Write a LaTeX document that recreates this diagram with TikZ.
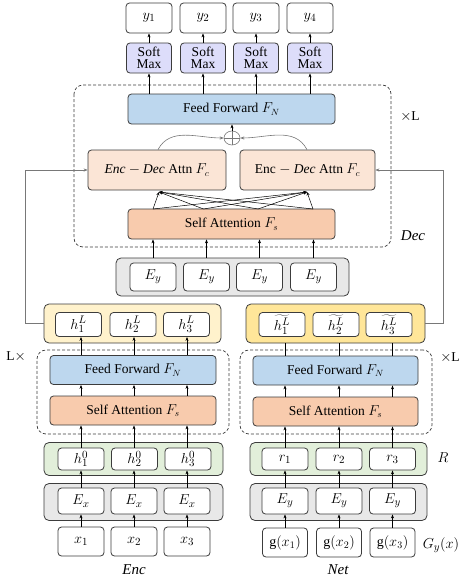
\documentclass[tikz,border=0pt]{standalone}
\usepackage{fontspec}
\setmainfont{Liberation Serif}
\usetikzlibrary{arrows.meta,shapes.geometric}
\definecolor{smx}{RGB}{221,221,250}
\definecolor{ffb}{RGB}{189,215,238}
\definecolor{edc}{RGB}{251,229,214}
\definecolor{sat}{RGB}{248,203,173}
\definecolor{gry}{RGB}{232,232,232}
\definecolor{yl1}{RGB}{255,242,204}
\definecolor{yl2}{RGB}{255,230,153}
\definecolor{grn}{RGB}{226,239,218}
\definecolor{edge}{RGB}{60,60,60}
\definecolor{lgr}{RGB}{120,120,120}
\tikzset{
  bx/.style={draw=edge, line width=0.8pt, rounded corners=3.5pt, inner sep=0pt, align=center, fill=white},
  outer/.style={draw=edge, line width=0.8pt, rounded corners=5pt, inner sep=0pt},
  dbox/.style={draw=edge, line width=0.7pt, dash pattern=on 3pt off 2pt, rounded corners=9pt},
  arr/.style={-{Stealth[length=4pt,width=3pt]}, line width=0.6pt, draw=black},
  plain/.style={line width=0.6pt, draw=black},
  garr/.style={-{Stealth[length=4pt,width=3.2pt]}, line width=0.6pt, draw=lgr},
  thin/.style={-{Stealth[length=3.5pt,width=3pt]}, line width=0.5pt, draw=black},
  mth/.style={font=\fontsize{15}{16}\selectfont},
}
\begin{document}
\begin{tikzpicture}[x=1pt,y=-1pt, font=\fontsize{13.5}{13.5}\selectfont]
\useasboundingbox (0,0) rectangle (466,581);

% ---------------- Decoder ----------------
\draw[dbox] (74,85) rectangle (391,247);
\foreach \i/\x in {1/149,2/203,3/256,4/310}{
  \node[bx, mth, minimum width=46pt, minimum height=30pt] (y\i) at (\x,18) {$y_\i$};
  \node[bx, fill=smx, minimum width=45pt, minimum height=30pt] (sm\i) at (\x,58) {Soft\\[-1.5pt]Max};
}
\node[bx, fill=ffb, minimum width=207pt, minimum height=30pt] (ff) at (231.5,109) {Feed Forward $F_N$};
\node[draw=lgr, line width=0.6pt, ellipse, minimum width=16pt, minimum height=14pt, inner sep=0pt] (circ) at (232,138) {};
\draw[lgr, line width=0.6pt] (circ.north) -- (circ.south) (circ.west) -- (circ.east);
\node[bx, fill=edc, minimum width=138pt, minimum height=40pt] (encL) at (157,170) {$\mathit{Enc}-\mathit{Dec}$ Attn $F_c$};
\node[bx, fill=edc, minimum width=135pt, minimum height=40pt] (encR) at (307.5,170) {Enc $-$ $\mathit{Dec}$ Attn $F_c$};
\node[bx, fill=sat, minimum width=207pt, minimum height=30pt] (sa) at (231.5,224) {Self Attention $F_s$};
\node[outer, fill=gry, minimum width=233pt, minimum height=38pt] (eyo) at (232.5,277) {};
\foreach \i/\x in {1/153,2/206.5,3/259.5,4/313.5}{
  \node[bx, mth, minimum width=46pt, minimum height=28pt] (ey\i) at (\x,277) {$E_y$};
}
\node at (410,117) {$\times$L};
\node[mth] at (413,236) {$\mathit{Dec}$};

% arrows decoder
\foreach \i in {1,2,3,4}{
  \draw[arr] (sm\i.north) -- (y\i.south);
  \draw[arr] (sm\i.south |- ff.north) -- (sm\i.south);
  \draw[arr] (ey\i.north |- eyo.north) -- (ey\i.north |- sa.south);
}
\draw[arr] (circ.north) -- (circ.north |- ff.south);
\draw[garr] ([xshift=1pt]encL.north) to[out=62,in=180] (circ.west);
\draw[garr] ([xshift=-0.5pt]encR.north) to[out=118,in=0] (circ.east);
\coordinate (cl) at (159,192);
\coordinate (cr) at (307,192);
\foreach \k/\x in {1/153,2/203.5,3/258,4/313}{
  \coordinate (b\k) at (\x,209);
  \draw[thin] (b\k) -- (cl);
  \draw[thin] (b\k) -- (cr);
}

% ---------------- Encoder (left) ----------------
\node[outer, fill=yl1, minimum width=177pt, minimum height=39pt] (hLo) at (132.5,323.5) {};
\node[dbox, minimum width=192pt, minimum height=84pt] (dl) at (133,392) {};
\node[bx, fill=ffb, minimum width=166pt, minimum height=29pt] (ffL) at (133,370) {Feed Forward $F_N$};
\node[bx, fill=sat, minimum width=166pt, minimum height=29pt] (saL) at (133,410.5) {Self Attention $F_s$};
\node[outer, fill=grn, minimum width=179pt, minimum height=33pt] (h0o) at (133.5,459) {};
\node[outer, fill=gry, minimum width=179pt, minimum height=37pt] (exo) at (133.5,502) {};
\foreach \i/\x in {1/78.5,2/133,3/186.5}{
  \node[bx, mth, minimum width=46pt, minimum height=24pt] (hL\i) at (\x,324.5) {$h_\i^L$};
}
\foreach \i/\x in {1/81,2/134.5,3/188}{
  \node[bx, mth, minimum width=46pt, minimum height=22pt] (h0\i) at (\x,459) {$h_\i^0$};
}
\foreach \i/\x in {1/81,2/134,3/187}{
  \node[bx, mth, minimum width=46pt, minimum height=26pt] (ex\i) at (\x,501) {$E_x$};
  \node[bx, mth, minimum width=46pt, minimum height=29pt] (x\i) at (\x,541.5) {$x_\i$};
  \draw[arr] (x\i.north) -- (ex\i.south);
  \draw[arr] (ex\i.north) -- (ex\i.north |- h0\i.south);
  \draw[arr] (ex\i.north |- h0\i.north) -- (ex\i.north |- saL.south);
  \draw[arr] (ex\i.north |- saL.north) -- (ex\i.north |- ffL.south);
  \draw[arr] (ex\i.north |- ffL.north) -- (ex\i.north |- hL1.south);
}
\node at (16,357) {L$\times$};
\node[mth] at (134,570) {$\mathit{Enc}$};

% ---------------- Net (right) ----------------
\node[outer, fill=yl2, minimum width=179pt, minimum height=39pt] (hto) at (335.5,323.5) {};
\node[dbox, minimum width=192pt, minimum height=84pt] (dr) at (336,392) {};
\node[bx, fill=ffb, minimum width=165pt, minimum height=29pt] (ffR) at (335.5,370.5) {Feed Forward $F_N$};
\node[bx, fill=sat, minimum width=165pt, minimum height=29pt] (saR) at (335.5,411.5) {Self Attention $F_s$};
\node[outer, fill=grn, minimum width=177pt, minimum height=33pt] (ro) at (338.5,459) {};
\node[outer, fill=gry, minimum width=177pt, minimum height=37pt] (eyro) at (338.5,502) {};
\foreach \i/\x in {1/282,2/336,3/389}{
  \node[bx, mth, minimum width=46pt, minimum height=24pt] (ht\i) at (\x,324.5) {$\widetilde{h_\i^L}$};
}
\foreach \i/\x in {1/285,2/339,3/392.5}{
  \node[bx, mth, minimum width=46pt, minimum height=22pt] (r\i) at (\x,459) {$r_\i$};
  \node[bx, mth, minimum width=46pt, minimum height=26pt] (eyr\i) at (\x,501) {$E_y$};
  \node[bx, font=\fontsize{14}{15}\selectfont, minimum width=45pt, minimum height=29pt] (g\i) at (\x,542.5) {$\mathrm{g}(x_\i)$};
  \draw[arr] (g\i.north) -- (eyr\i.south);
  \draw[arr] (eyr\i.north) -- (r\i.south);
  \draw[arr] (r\i.north) -- (r\i.north |- saR.south);
  \draw[arr] (r\i.north |- saR.north) -- (r\i.north |- ffR.south);
  \draw[plain] (r\i.north |- ffR.north) -- (r\i.north |- hto.south);
}
\node at (450,358) {$\times$L};
\node[mth] at (443,458) {$R$};
\node[mth] at (441,545) {$G_y(x)$};
\node[mth] at (338,570) {$\mathit{Net}$};

% ---------------- feedback lines ----------------
\draw[garr] (hLo.west) -- ++(-18,0) |- (encL.west);
\draw[garr] (hto.east) -- ++(18,0) |- (encR.east);
\end{tikzpicture}
\end{document}
